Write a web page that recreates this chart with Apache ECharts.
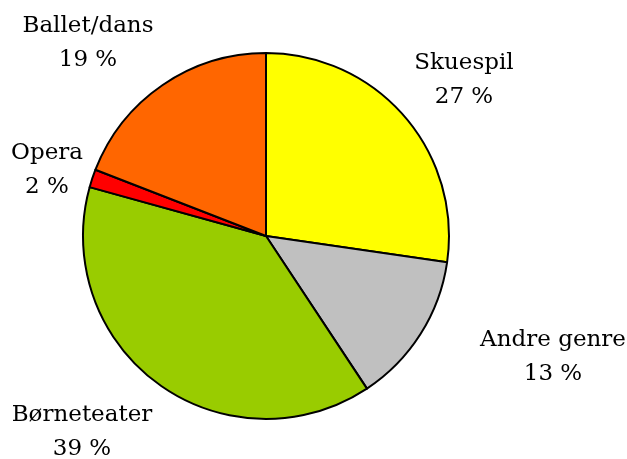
<!DOCTYPE html>
<html>
<head>
<meta charset="utf-8">
<script src="https://cdn.jsdelivr.net/npm/echarts@6/dist/echarts.min.js"></script>
<style>
  html, body { margin: 0; padding: 0; background: #fff; }
  #main { width: 627px; height: 459px; }
</style>
</head>
<body>
<div id="main"></div>
<script>
  // data (percent of the total)
  var genres = ['Skuespil', 'Andre genre', 'Børneteater', 'Opera', 'Ballet/dans'];
  var shares = [27.3, 13.4, 38.6, 1.6, 19.1];
  var colors = ['#ffff00', '#c0c0c0', '#99cc00', '#ff0000', '#ff6600'];
  // label block centres (px)
  var labelPos = [[464, 80], [553, 357], [82, 432], [47, 170], [88, 43]];

  var chart = echarts.init(document.getElementById('main'));
  chart.setOption({
    animation: false,
    series: [{
      type: 'pie',
      center: [266, 236],
      radius: 183,
      startAngle: 90,
      clockwise: true,
      data: genres.map(function (g, i) {
        return { name: g, value: shares[i], itemStyle: { color: colors[i] } };
      }),
      itemStyle: { borderColor: '#000', borderWidth: 2 },
      emphasis: { disabled: true },
      label: {
        show: true,
        position: 'outside',
        fontFamily: 'DejaVu Serif',
        fontSize: 23,
        lineHeight: 34,
        color: '#000',
        overflow: 'none',
        formatter: function (p) { return p.name + '\n' + Math.round(p.value) + ' %'; }
      },
      labelLine: { show: false },
      labelLayout: function (params) {
        var p = labelPos[params.dataIndex];
        return { x: p[0], y: p[1], align: 'center', verticalAlign: 'middle' };
      }
    }]
  });
</script>
</body>
</html>
